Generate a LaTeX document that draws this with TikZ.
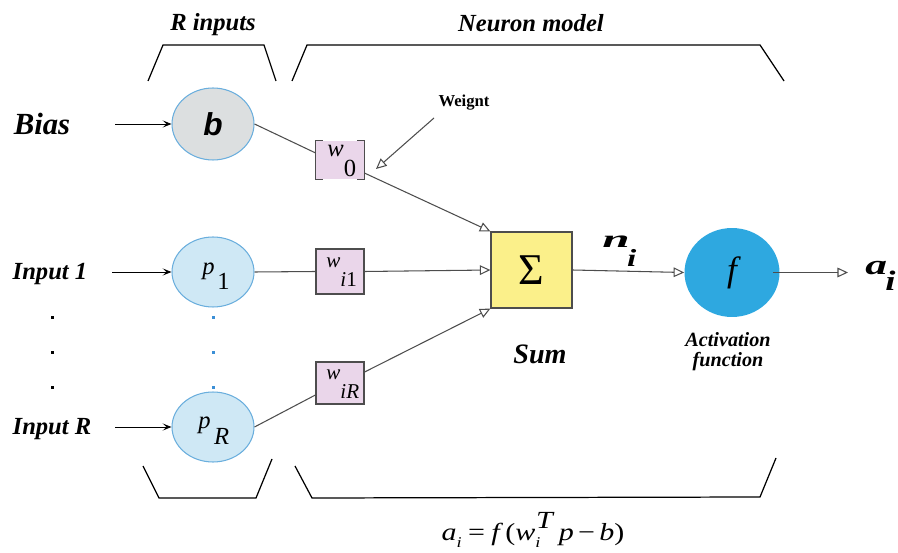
\documentclass[tikz,border=0pt]{standalone}
\usepackage{graphicx}
\usepackage{fontspec}
\setmainfont{Liberation Serif}
\newfontfamily\sansbi{Liberation Sans}
\usetikzlibrary{shapes.geometric,arrows.meta}
\definecolor{edgeblue}{HTML}{6AAEDD}
\definecolor{inblue}{HTML}{CFE8F5}
\definecolor{biasgray}{HTML}{DCDFE0}
\definecolor{wpink}{HTML}{EAD6EA}
\definecolor{sumyel}{HTML}{FBF08A}
\definecolor{fblue}{HTML}{2EA8E0}
\definecolor{linegray}{HTML}{4D4D4D}
\definecolor{dotblue}{HTML}{3B8FD6}
\begin{document}
\begin{tikzpicture}[x=0.02cm,y=-0.02cm,
  inode/.style={ellipse, draw=edgeblue, line width=0.6pt, fill=inblue, minimum width=1.64cm, minimum height=1.4cm, inner sep=0pt},
  wbox/.style={rectangle, draw=linegray, line width=0.7pt, fill=wpink, minimum width=0.96cm, inner sep=0pt},
  conn/.style={draw=linegray, line width=0.6pt},
  oarrow/.style={conn, -{Triangle[open, length=6pt, width=5.5pt]}},
  inarrow/.style={draw=black, line width=0.5pt, -{Stealth[length=5pt, width=4pt, inset=2.2pt]}},
  bracket/.style={draw=black, line width=0.7pt},
  txt/.style={inner sep=0pt},
  hdr/.style={txt, anchor=base, font=\fontsize{14}{16}\selectfont\bfseries\itshape},
]
\useasboundingbox (0,0) rectangle (898,553);

% brackets
\draw[bracket] (148,81) -- (163,45) -- (264,45) -- (276,81);
\draw[bracket] (292,81) -- (307,45) -- (760,45) -- (784,81);
\draw[bracket] (143,466) -- (159,498) -- (256,498) -- (272,459);
\draw[bracket] (295,466) -- (312,498) -- (760,497) -- (776,458);

% headers
\node[hdr] (rin) at (213,31) {R inputs};
\node[hdr] (nm) at (531,32) {Neuron model};

% input nodes
\node[inode, fill=biasgray, minimum height=1.44cm] (b) at (213,124) {\sansbi\fontsize{18}{18}\selectfont\bfseries\itshape b};
\node[inode] (p1) at (213,272) {};
\node[inode] (pR) at (213,427) {};
\node[txt, anchor=base west, font=\fontsize{14}{14}\selectfont] (p1t) at (202,275) {\textit{p}\kern1.5pt\raisebox{-8.5pt}{1}};
\node[txt, anchor=base west, font=\fontsize{14}{14}\selectfont] (pRt) at (198,428) {\textit{p}\kern2pt\raisebox{-9.6pt}{\textit{R}}};

% input labels
\node[txt, anchor=base, font=\fontsize{17.5}{18}\selectfont\bfseries\itshape] (bias) at (42,135) {Bias};
\node[txt, anchor=base, font=\fontsize{14}{14}\selectfont\bfseries\itshape] (in1) at (50,280) {Input 1};
\node[txt, anchor=base, font=\fontsize{14}{14}\selectfont\bfseries\itshape] (inR) at (52,434) {Input R};
\coordinate (bs) at (115,124);
\coordinate (i1s) at (112,272);
\coordinate (iRs) at (115,427);
\draw[inarrow] (bs) -- (b.west);
\draw[inarrow] (i1s) -- (p1.west);
\draw[inarrow] (iRs) -- (pR.west);

% dots
\foreach \yy in {318,353,387} {
  \fill[black] (50.5,\yy-1.5) rectangle ++(3,3);
  \fill[dotblue] (211.5,\yy-1.5) rectangle ++(3,3);
}

% weight boxes
\node[rectangle, fill=wpink, minimum width=0.96cm, minimum height=0.76cm, inner sep=0pt] (w0) at (340,160) {};
\draw[draw=linegray, line width=0.8pt] ([xshift=0.14cm]w0.north west) -- (w0.north west) -- (w0.south west) -- ([xshift=0.14cm]w0.south west);
\draw[draw=linegray, line width=0.8pt] ([xshift=-0.14cm]w0.north east) -- (w0.north east) -- (w0.south east) -- ([xshift=-0.14cm]w0.south east);
\node[wbox, minimum height=0.9cm] (wi1) at (340,271.5) {};
\node[wbox, minimum height=0.84cm] (wiR) at (340,383) {};
\node[txt, anchor=base west, font=\fontsize{14}{14}\selectfont] (w0t) at (327,157) {\textit{w}\raisebox{-11.3pt}{0}};
\node[txt, anchor=base west, font=\fontsize{12}{12}\selectfont] (wi1t) at (326,268) {\textit{w}\raisebox{-10.8pt}{\textit{i}1}};
\node[txt, anchor=base west, font=\fontsize{12}{12}\selectfont] (wiRt) at (326,379) {\textit{w}\raisebox{-11.3pt}{\textit{iR}}};

% weight annotation
\node[txt, anchor=base, font=\fontsize{9.5}{10}\selectfont\bfseries] (wt) at (464,107) {Weignt};
\coordinate (wtail) at (434,118);
\coordinate (wtip) at (376,169);
\draw[oarrow] (wtail) -- (wtip);

% sum and activation
\node[rectangle, draw=linegray, line width=0.7pt, fill=sumyel, minimum width=1.62cm, minimum height=1.52cm, inner sep=0pt, font=\fontsize{25}{25}\selectfont] (sum) at (531.5,270) {Σ};
\node[ellipse, fill=fblue, minimum width=1.9cm, minimum height=1.78cm, inner sep=0pt, font=\fontsize{20}{20}\selectfont\itshape] (f) at (732,272.5) {f};
\node[txt, anchor=base, font=\fontsize{16}{16}\selectfont\bfseries\itshape] (sumlbl) at (540,363) {Sum};
\node[txt, anchor=base, font=\fontsize{11.5}{11.5}\selectfont\bfseries\itshape] (act1) at (728,347) {Activation};
\node[txt, anchor=base, font=\fontsize{11.5}{11.5}\selectfont\bfseries\itshape] (act2) at (728,366) {function};

% n_i and a_i
\node[txt, anchor=base west, font=\fontsize{14}{14}\selectfont\bfseries\itshape] (ni) at (602,248) {\scalebox{2}[1]{n}\kern-1.5pt\raisebox{-10.8pt}{\scalebox{1.35}[1]{i}}};
\node[txt, anchor=base west, font=\fontsize{16}{16}\selectfont\bfseries\itshape] (ai) at (865,275) {\scalebox{1.55}[1]{a}\kern-1pt\raisebox{-9pt}{\scalebox{1.3}[1]{i}}};
\coordinate (aout) at (848,272.5);

% connectors
\draw[conn] (b.east) -- ([yshift=0.14cm]w0.west);
\draw[oarrow] ([yshift=-0.26cm]w0.east) -- (sum.north west);
\draw[conn] (p1.east) -- (wi1.west);
\draw[oarrow] (wi1.east) -- (sum.west);
\draw[conn] (pR.east) -- ([yshift=-0.24cm]wiR.west);
\draw[oarrow] ([yshift=0.22cm]wiR.east) -- (sum.south west);
\draw[oarrow] (sum.east) -- (f.west);
\draw[oarrow] ([xshift=-0.14cm]f.east) -- (aout);

% formula
\node[txt, anchor=base, font=\fontsize{14}{14}\selectfont] (formula) at (533,540) {\scalebox{1.22}[1]{\textit{a}\raisebox{-4pt}{\fontsize{8.5}{8.5}\selectfont\textit{i}}\hspace{3pt}=\hspace{3pt}\textit{f}\hspace{1pt}(\textit{w}\raisebox{-4pt}{\fontsize{8.5}{8.5}\selectfont\textit{i}}\kern-2pt\raisebox{6.5pt}{\textit{T}}\hspace{2pt}\textit{p}\hspace{2pt}−\hspace{2pt}\textit{b})}};
\end{tikzpicture}
\end{document}
